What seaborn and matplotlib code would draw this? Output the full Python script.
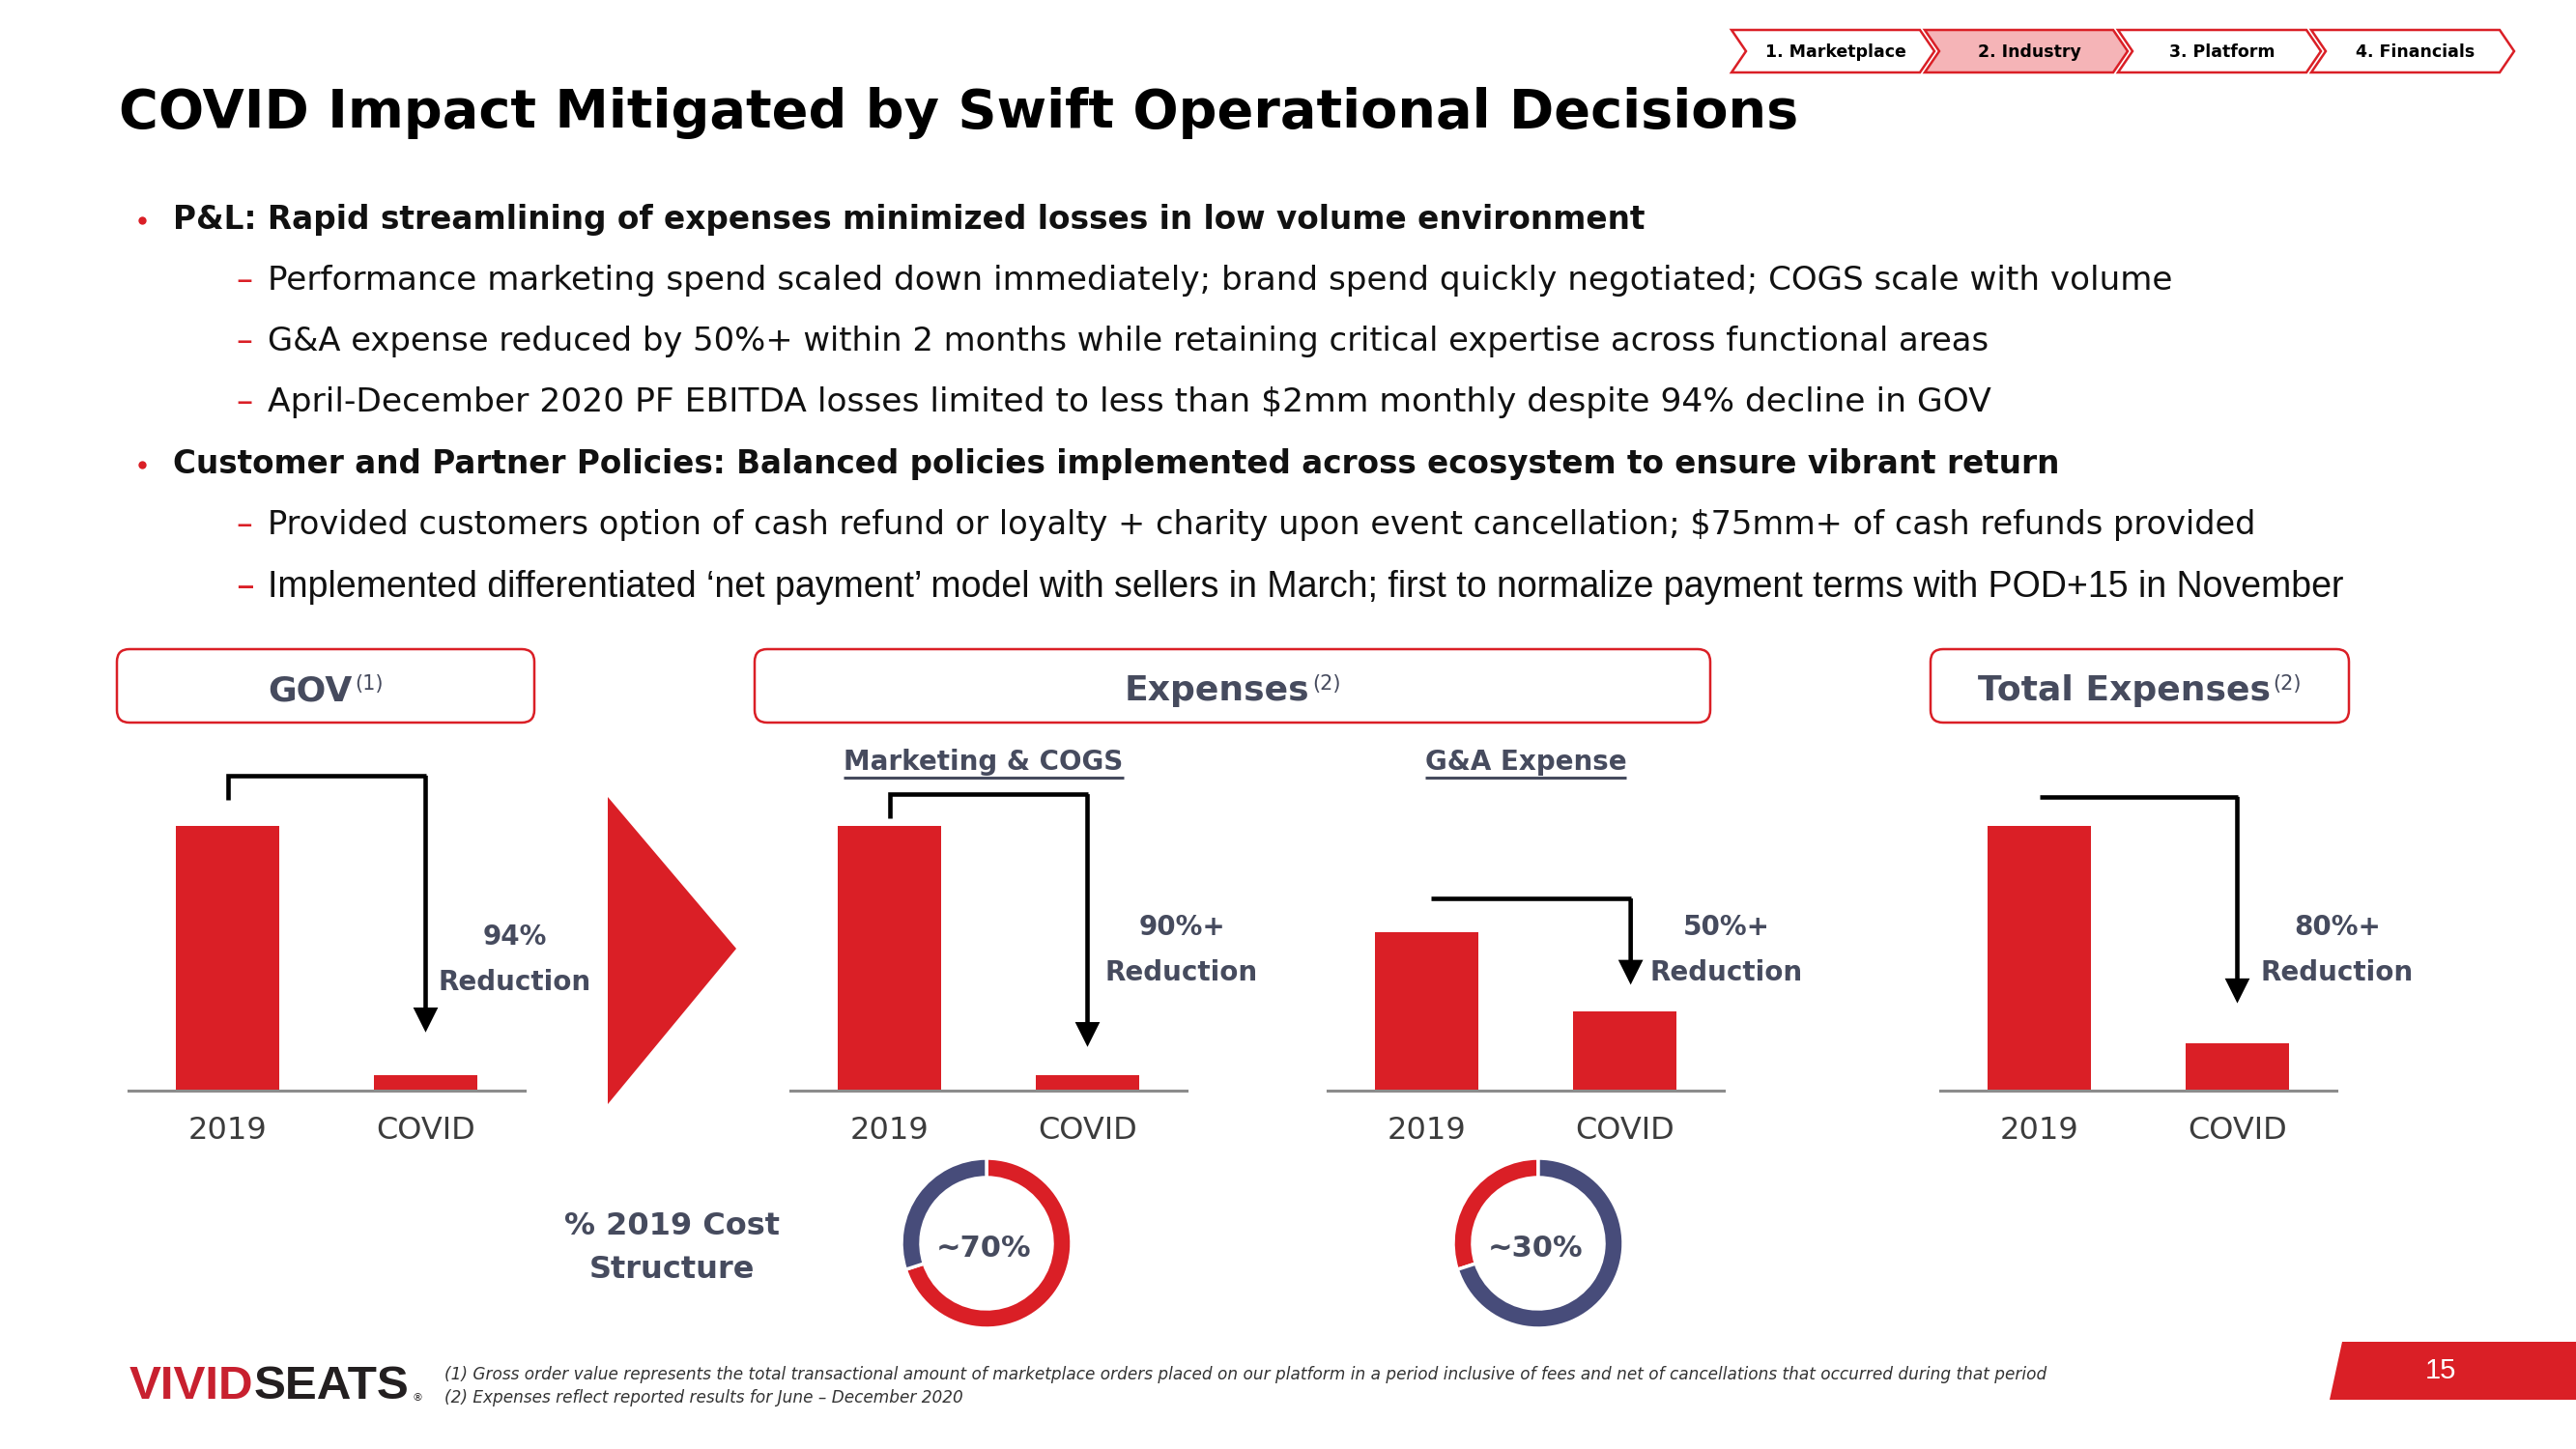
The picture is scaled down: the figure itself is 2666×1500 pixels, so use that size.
import numpy as np
import pandas as pd
import matplotlib
matplotlib.use("Agg")
import matplotlib.pyplot as plt
import seaborn as sns
from matplotlib.patches import Polygon, FancyBboxPatch
from matplotlib import font_manager as fm

# ------------------------------------------------------------------ data
bar_categories = ["2019", "COVID"]
gov_values = [100, 6]
mkt_cogs_values = [100, 6]
ga_values = [60, 30]
total_values = [100, 18]
reduction_pcts = ["94%", "90%+", "50%+", "80%+"]

mkt_share_2019 = [70, 30]      # Marketing & COGS share of 2019 cost structure, remainder
ga_share_2019 = [30, 70]       # G&A share of 2019 cost structure, remainder
donut_labels = ["~70%", "~30%"]

nav_tabs = ["1. Marketplace", "2. Industry", "3. Platform", "4. Financials"]
title = "COVID Impact Mitigated by Swift Operational Decisions"
bullet_texts = [
    "P&L: Rapid streamlining of expenses minimized losses in low volume environment",
    "Performance marketing spend scaled down immediately; brand spend quickly negotiated; COGS scale with volume",
    "G&A expense reduced by 50%+ within 2 months while retaining critical expertise across functional areas",
    "April-December 2020 PF EBITDA losses limited to less than $2mm monthly despite 94% decline in GOV",
    "Customer and Partner Policies: Balanced policies implemented across ecosystem to ensure vibrant return",
    "Provided customers option of cash refund or loyalty + charity upon event cancellation; $75mm+ of cash refunds provided",
    "Implemented differentiated \u2018net payment\u2019 model with sellers in March; first to normalize payment terms with POD+15 in November",
]
bullet_levels = [0, 1, 1, 1, 0, 1, 1]
box_titles = [("GOV", "(1)"), ("Expenses", "(2)"), ("Total Expenses", "(2)")]
sub_titles = ["Marketing & COGS", "G&A Expense"]
cost_label = ["% 2019 Cost", "Structure"]
footnotes = [
    "(1) Gross order value represents the total transactional amount of marketplace orders placed on our platform in a period inclusive of fees and net of cancellations that occurred during that period",
    "(2) Expenses reflect reported results for June \u2013 December 2020",
]
page_number = "15"

# ------------------------------------------------------------------ style
RED = "#DA1F26"
PINK = "#F5B4B7"
SLATE = "#464B5E"
NAVY = "#474C7A"
GRAY = "#8C8C8C"
TXT = "#111111"

sns.set_theme(style="white")
plt.rcParams["font.family"] = ["DejaVu Sans"]

names = {f.name for f in fm.fontManager.ttflist}
ARIAL = "Liberation Sans" if "Liberation Sans" in names else "DejaVu Sans"
NARROW = "Liberation Sans Narrow" if "Liberation Sans Narrow" in names else ARIAL

W, H = 2666, 1500
fig = plt.figure(figsize=(W / 100, H / 100), dpi=100)
fig.patch.set_facecolor("white")
ov = fig.add_axes([0, 0, 1, 1])
ov.set_xlim(0, W)
ov.set_ylim(H, 0)
ov.axis("off")
renderer = fig.canvas.get_renderer()


def px_axes(left, top, right, bottom):
    return fig.add_axes([left / W, 1 - bottom / H, (right - left) / W, (bottom - top) / H])


def width_of(t):
    return t.get_window_extent(renderer).width


def fit(t, target_w, lo=None, hi=None):
    s = t.get_fontsize() * target_w / width_of(t)
    if lo is not None:
        s = max(lo, s)
    if hi is not None:
        s = min(hi, s)
    t.set_fontsize(s)
    return t


# ------------------------------------------------------------------ nav tabs
ty0, ty1, tip = 31, 75, 15
for i, lab in enumerate(nav_tabs):
    x0 = 1792 + i * 200
    x1 = x0 + 210
    ym = (ty0 + ty1) / 2
    pts = [(x0, ty0), (x1 - tip, ty0), (x1, ym), (x1 - tip, ty1), (x0, ty1), (x0 + tip, ym)]
    ov.add_patch(Polygon(pts, closed=True, fc=PINK if i == 1 else "white", ec=RED, lw=1.8, zorder=3))
    ov.text((x0 + x1) / 2 + 3, ym + 1, lab, ha="center", va="center", fontsize=12.5,
            fontweight="bold", color="black", zorder=4)

# ------------------------------------------------------------------ title
t = ov.text(123, 132, title, fontsize=36, fontweight="bold", color="black", va="baseline")
fit(t, 1741)

# ------------------------------------------------------------------ bullets
baselines = [237, 300, 363, 426, 490, 553, 618]
line_ends = [1704, 2248, 2062, 2064, 2135, 2340, 2496]
for i, (txt, lvl) in enumerate(zip(bullet_texts, bullet_levels)):
    yb = baselines[i]
    if lvl == 0:
        ov.plot(147, yb - 9, "o", ms=6, color=RED, mec="none")
        tt = ov.text(179, yb, txt, fontsize=23, fontweight="bold", color=TXT, va="baseline")
        fit(tt, line_ends[i] - 179, 19, 25)
    else:
        last = i == len(bullet_texts) - 1
        fam = ARIAL if last else "DejaVu Sans"
        tt = ov.text(277, yb, txt, fontsize=23, color=TXT, va="baseline", family=fam)
        fit(tt, line_ends[i] - 277, 19, 27)
        ov.text(244, yb, "\u2013", fontsize=tt.get_fontsize(), color=RED, va="baseline")

# ------------------------------------------------------------------ header boxes
boxes = [(121, 553), (781, 1770), (1998, 2431)]
for (bx0, bx1), (main, sup) in zip(boxes, box_titles):
    ov.add_patch(FancyBboxPatch((bx0, 672), bx1 - bx0, 76,
                                boxstyle="round,pad=0,rounding_size=13",
                                fc="white", ec=RED, lw=1.8, zorder=2))
    tm = ov.text(0, 725, main, fontsize=26, fontweight="bold", color=SLATE, va="baseline", zorder=3)
    ts = ov.text(0, 714, sup, fontsize=15, color=SLATE, va="baseline", zorder=3)
    wm, ws = width_of(tm), width_of(ts)
    cx = (bx0 + bx1) / 2
    xs = cx - (wm + ws + 3) / 2
    tm.set_x(xs)
    ts.set_x(xs + wm + 3)

# sub titles (underlined)
for cx, lab in zip([1018, 1579], sub_titles):
    st = ov.text(cx, 797, lab, fontsize=20, fontweight="bold", color=SLATE, ha="center", va="baseline")
    w = width_of(st)
    ov.plot([cx - w / 2, cx + w / 2], [805, 805], color=SLATE, lw=2.2, solid_capstyle="butt")

# ------------------------------------------------------------------ bar charts
base_y = 1129
px_per_unit = 2.74
ymax = 110
charts = [
    # values, left px, bracket: (x_start, y_start, y_top, x_end, tip), label center x, label baselines
    (gov_values, 133, (0.0, 110, 119, 1.0, 22), 533, (978, 1025)),
    (mkt_cogs_values, 818, (0.0, 103, 112, 1.0, 16.5), 1223, (968, 1015)),
    (ga_values, 1374, (0.02, 72.6, 72.6, 1.03, 40), 1787, (968, 1015)),
    (total_values, 2008, (0.0, 111, 111, 1.0, 33), 2419, (968, 1015)),
]
for k, (vals, left, br, lab_x, lab_y) in enumerate(charts):
    ax = px_axes(left, base_y - ymax * px_per_unit, left + 410, base_y)
    df = pd.DataFrame({"period": bar_categories, "value": vals})
    sns.barplot(data=df, x="period", y="value", ax=ax, color=RED, saturation=1,
                width=0.52, edgecolor="none", linewidth=0)
    ax.set_xlim(-0.5, 1.5)
    ax.set_ylim(0, ymax)
    ax.patch.set_alpha(0)
    for side in ["left", "right", "top"]:
        ax.spines[side].set_visible(False)
    ax.spines["bottom"].set_color(GRAY)
    ax.spines["bottom"].set_linewidth(2.2)
    ax.set_yticks([])
    ax.set_xlabel("")
    ax.set_ylabel("")
    ax.tick_params(axis="x", length=0, pad=19, labelsize=23, labelcolor="#3C3C3C")
    xs0, ys0, ytop, xe, tipy = br
    ax.plot([xs0, xs0, xe], [ys0, ytop, ytop], color="black", lw=3.3, clip_on=False,
            solid_joinstyle="miter", solid_capstyle="butt")
    ax.annotate("", xy=(xe, tipy), xytext=(xe, ytop), annotation_clip=False,
                arrowprops=dict(arrowstyle="-|>,head_length=0.6,head_width=0.3", color="black",
                                lw=3.3, shrinkA=0, shrinkB=0, mutation_scale=22,
                                joinstyle="miter", capstyle="butt"))
    ov.text(lab_x, lab_y[0], reduction_pcts[k], fontsize=20, fontweight="bold", color=SLATE,
            ha="center", va="baseline")
    ov.text(lab_x, lab_y[1], "Reduction", fontsize=20, fontweight="bold", color=SLATE,
            ha="center", va="baseline")

# big arrow triangle
ov.add_patch(Polygon([(629, 825), (762, 982), (629, 1143)], closed=True, fc=RED, ec="none"))

# ------------------------------------------------------------------ donuts
ov.text(695, 1278, cost_label[0], fontsize=23, fontweight="bold", color=SLATE, ha="center", va="baseline")
ov.text(695, 1323, cost_label[1], fontsize=23, fontweight="bold", color=SLATE, ha="center", va="baseline")

donuts = [
    (1021, 1287, mkt_share_2019, [RED, NAVY], False, donut_labels[0]),
    (1592, 1287, ga_share_2019, [RED, NAVY], True, donut_labels[1]),
]
R = 88
for cx, cy, vals, cols, ccw, lab in donuts:
    dax = px_axes(cx - R, cy - R, cx + R, cy + R)
    dax.pie(vals, colors=cols, startangle=90, counterclock=ccw, radius=1,
            wedgeprops=dict(width=20 / R, edgecolor="white", linewidth=2.5))
    dax.set_xlim(-1, 1)
    dax.set_ylim(-1, 1)
    dax.set_aspect("equal")
    dax.axis("off")
    ov.text(cx - 3, cy + 14, lab, fontsize=22, fontweight="bold", color=SLATE, ha="center", va="baseline")

# ------------------------------------------------------------------ footer
lv = ov.text(134, 1448, "VIVID", fontsize=50, fontweight="bold", color="#C8202F", va="baseline", family=NARROW)
ls = ov.text(0, 1448, "SEATS", fontsize=50, fontweight="bold", color="#231F20", va="baseline", family=NARROW)
tot = width_of(lv) + width_of(ls)
scale = 290 / tot
lv.set_fontsize(50 * scale)
ls.set_fontsize(50 * scale)
ls.set_x(134 + width_of(lv))
ov.text(134 + 292, 1450, "\u00ae", fontsize=8, color="#231F20", va="baseline")

f1 = ov.text(460, 1428, footnotes[0], fontsize=11.5, style="italic", color="#333333", va="baseline")
fit(f1, 2120 - 460)
ov.text(460, 1452, footnotes[1], fontsize=f1.get_fontsize(), style="italic", color="#333333", va="baseline")

ov.add_patch(Polygon([(2424, 1389), (W, 1389), (W, 1449), (2411, 1449)], closed=True, fc=RED, ec="none"))
ov.text(2526, 1427, page_number, fontsize=21, color="white", ha="center", va="baseline", family=ARIAL)

fig.savefig("out.png", dpi=100, facecolor="white")
